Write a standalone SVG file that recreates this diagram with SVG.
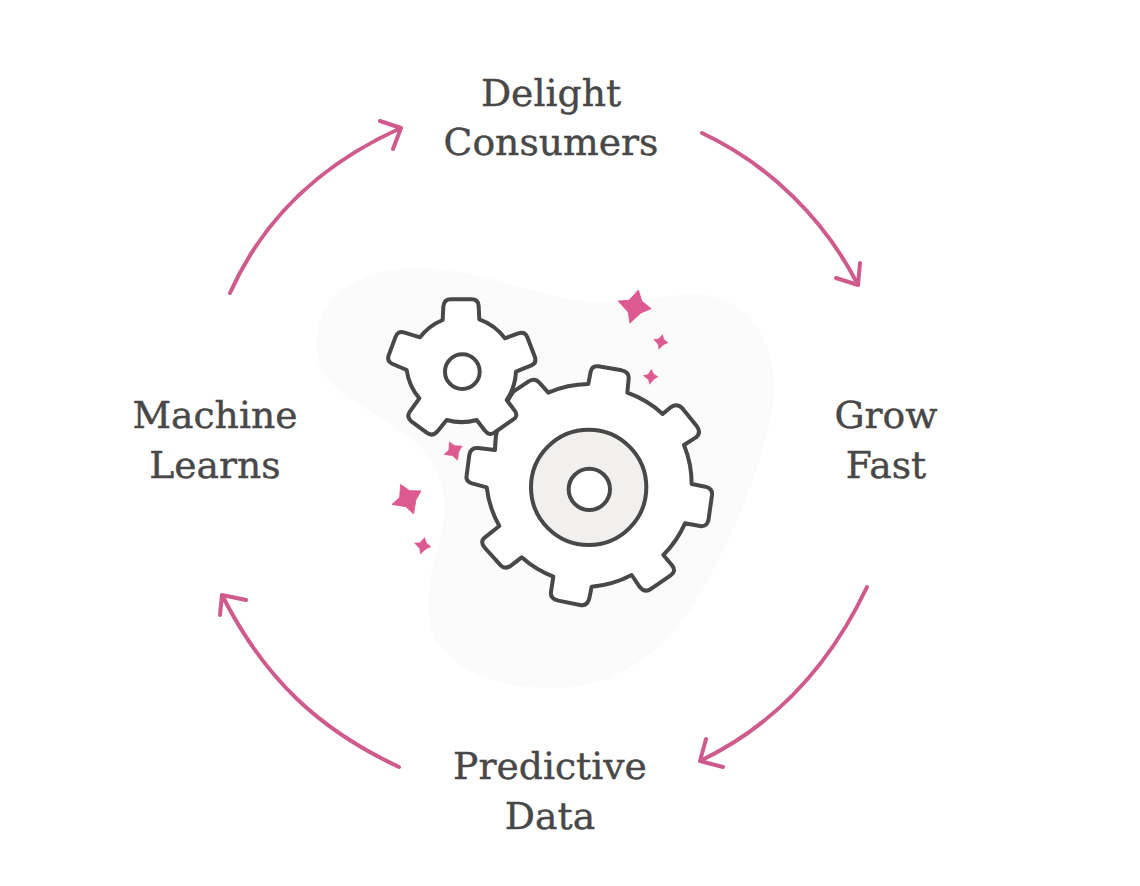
<svg xmlns="http://www.w3.org/2000/svg" width="1140" height="886" viewBox="0 0 1140 886">
<style>
.lbl{font-family:"DejaVu Serif","Liberation Serif",serif;font-size:37.7px;fill:#484848;stroke:#484848;stroke-width:.4;text-anchor:middle}
.arrow{fill:none;stroke:#cf5b8d;stroke-width:4;stroke-linecap:round;stroke-linejoin:round}
.gear{fill:#fff;stroke:#484848;stroke-width:12;stroke-linejoin:round}
.star{fill:#dd5a90;stroke:#dd5a90;stroke-width:.5;stroke-linejoin:round}
</style>
<defs>
<path id="st" d="M2 -10L4 -3.5L9.5 1L3.5 3.5L-3 9.5L-4 3L-10 -3.5L-3.5 -4Z"/>
</defs>
<rect width="1140" height="886" fill="#fff"/>
<path id="blob" fill="#fbfbfb" d="M316 340C320 290 370 266 420 268C490 270 540 300 600 302C650 304 690 285 725 300C765 318 780 365 772 410C762 470 735 530 705 585C680 635 630 685 560 688C490 690 430 665 428 610C426 560 455 525 440 480C425 435 380 420 345 395C325 380 315 365 316 340Z"/>
<g id="connectors">
<g class="arrow">
<path d="M230 293C265 215 325 162 401 128M380 121L401 128L393 149"/>
<path d="M702 133C770 165 825 220 858 285M860 263L858 285L836 278"/>
<path d="M867 587C830 665 775 725 700 761M706 739L700 761L723 767"/>
<path d="M399 767C320 730 265 680 222 595M220 615L222 595L246 600"/>
</g>
</g>
<g id="gears">
<g id="gear-large" transform="translate(370 280) scale(.33333)">
<path class="gear" d="M655 312L662 275Q666 256 685 259L755 271Q778 276 776 296L772 338A310 310 0 0 1 878 402L902 382Q922 368 938 386L980 438Q995 458 978 472L942 495A310 310 0 0 1 965 612L1006 620Q1028 625 1026 645L1016 716Q1012 742 990 738L945 730A310 310 0 0 1 880 825L906 856Q920 874 902 886L844 926Q825 940 810 922L785 885A310 310 0 0 1 665 920L658 955Q652 980 630 975L565 962Q540 956 543 936L550 890A310 310 0 0 1 455 832L424 856Q406 870 392 856L345 804Q328 785 345 772L388 738A310 310 0 0 1 350 622L306 610Q286 604 290 586L298 525Q302 502 324 504L375 510A310 310 0 0 1 430 335L476 304Q495 292 510 310L535 338A310 310 0 0 1 655 312Z"/>
<circle cx="656" cy="622" r="173" fill="#f1f0ef" stroke="#484848" stroke-width="12"/>
<circle cx="658" cy="628" r="62" fill="#fff" stroke="#484848" stroke-width="12"/>
</g>
<g id="gear-small" transform="translate(370 280) scale(.33333)">
<path class="gear" d="M218 120L220 80Q222 58 242 58L305 58Q325 58 326 78L328 118A165 165 0 0 1 405 175L445 160Q465 154 472 172L495 232Q500 250 484 256L438 275A165 165 0 0 1 410 360L434 392Q446 408 430 418L376 456Q358 470 345 452L320 420A165 165 0 0 1 230 420L204 452Q188 472 170 458L124 424Q108 410 120 394L148 355A165 165 0 0 1 110 270L68 252Q50 244 56 226L76 172Q84 150 104 158L150 172A165 165 0 0 1 218 120Z"/>
<circle cx="277" cy="275" r="52" fill="#fff" stroke="#484848" stroke-width="12"/>
</g>
</g>
<g id="sparkles" class="star">
<use href="#st" transform="translate(635 307) scale(1.7)"/>
<use href="#st" transform="translate(661 342) scale(.75)"/>
<use href="#st" transform="translate(651 377) scale(.75) rotate(-8)"/>
<use href="#st" transform="translate(454 451) scale(1) rotate(-38)"/>
<use href="#st" transform="translate(408 499) scale(1.6) rotate(-38)"/>
<use href="#st" transform="translate(423 546) scale(.85)"/>
</g>
<g id="node-delight"><text class="lbl" x="551" y="106">Delight</text><text class="lbl" x="551" y="155">Consumers</text></g>
<g id="node-grow"><text class="lbl" x="886" y="428">Grow</text><text class="lbl" x="886" y="478">Fast</text></g>
<g id="node-predictive"><text class="lbl" x="550" y="779">Predictive</text><text class="lbl" x="550" y="829">Data</text></g>
<g id="node-machine"><text class="lbl" x="215" y="428">Machine</text><text class="lbl" x="215" y="478">Learns</text></g>
</svg>
